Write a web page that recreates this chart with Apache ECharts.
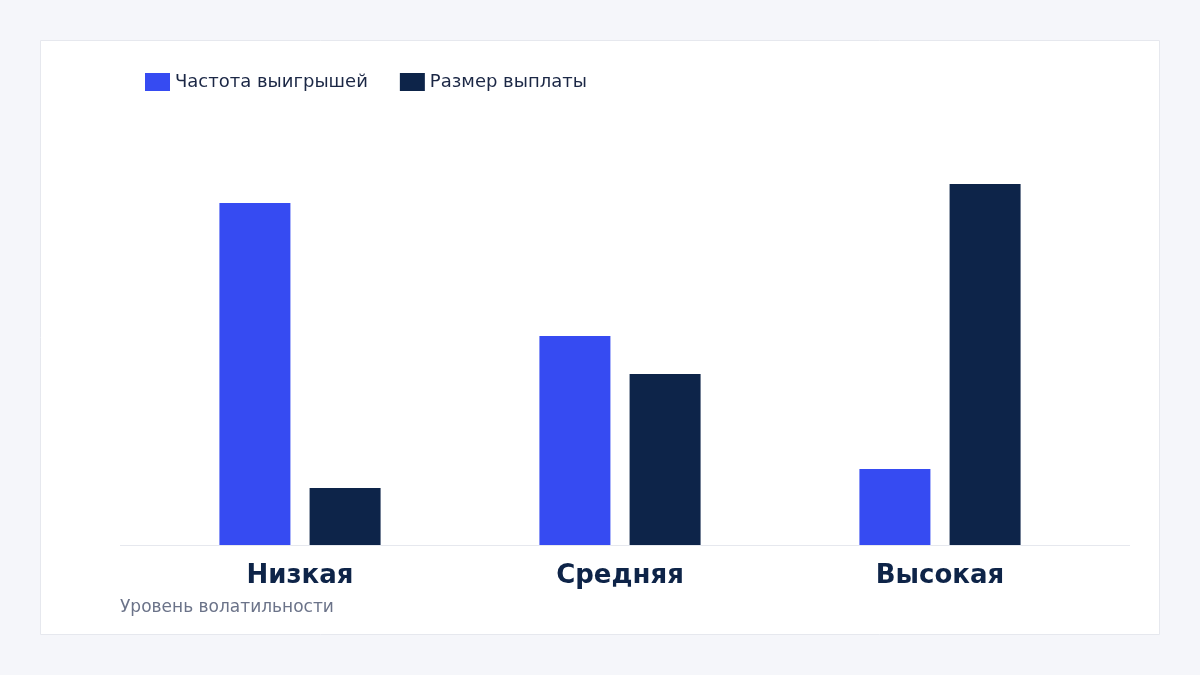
<!DOCTYPE html>
<html>
<head>
<meta charset="utf-8">
<script src="https://cdn.jsdelivr.net/npm/echarts@6/dist/echarts.min.js"></script>
<style>
  html, body { margin: 0; padding: 0; background: #f5f6fa; }
  #main { width: 1200px; height: 675px; }
</style>
</head>
<body>
<div id="main"></div>
<script>
var categories = ['Низкая', 'Средняя', 'Высокая'];
var winFrequency = [90, 55, 20];
var payoutSize = [15, 45, 95];

var myChart = echarts.init(document.getElementById('main'));
var font = '"DejaVu Sans", sans-serif';

myChart.setOption({
  backgroundColor: '#f5f6fa',
  textStyle: { fontFamily: font },
  graphic: [
    {
      type: 'rect', z: -10, silent: true,
      shape: { x: 40.5, y: 40.5, width: 1119, height: 594 },
      style: { fill: '#ffffff', stroke: '#e6e8ee', lineWidth: 1 }
    },
    {
      type: 'line', z: 5, silent: true,
      shape: { x1: 120, y1: 545.5, x2: 1130, y2: 545.5 },
      style: { stroke: '#e6e8ee', lineWidth: 1 }
    },
    {
      type: 'text', left: 120, top: 599, silent: true,
      style: { text: 'Уровень волатильности', fill: '#6b7389', font: '17px ' + font }
    }
  ],
  legend: {
    left: 140, top: 68, itemWidth: 25, itemHeight: 18, itemGap: 32,
    icon: 'rect',
    textStyle: { color: '#1b2745', fontSize: 18, fontFamily: font },
    data: ['Частота выигрышей', 'Размер выплаты']
  },
  grid: { left: 140, right: 100, top: 165, bottom: 130 },
  xAxis: {
    type: 'category',
    data: categories,
    axisLine: { show: false },
    axisTick: { show: false },
    axisLabel: { color: '#0e2448', fontSize: 26, fontWeight: 'bold', margin: 18, fontFamily: font }
  },
  yAxis: {
    type: 'value', min: 0, max: 100, show: false
  },
  series: [
    {
      name: 'Частота выигрышей', type: 'bar', data: winFrequency,
      barWidth: 71, barGap: '27%',
      itemStyle: { color: '#364bf2' }
    },
    {
      name: 'Размер выплаты', type: 'bar', data: payoutSize,
      barWidth: 71,
      itemStyle: { color: '#0d2449' }
    }
  ]
});
</script>
</body>
</html>
